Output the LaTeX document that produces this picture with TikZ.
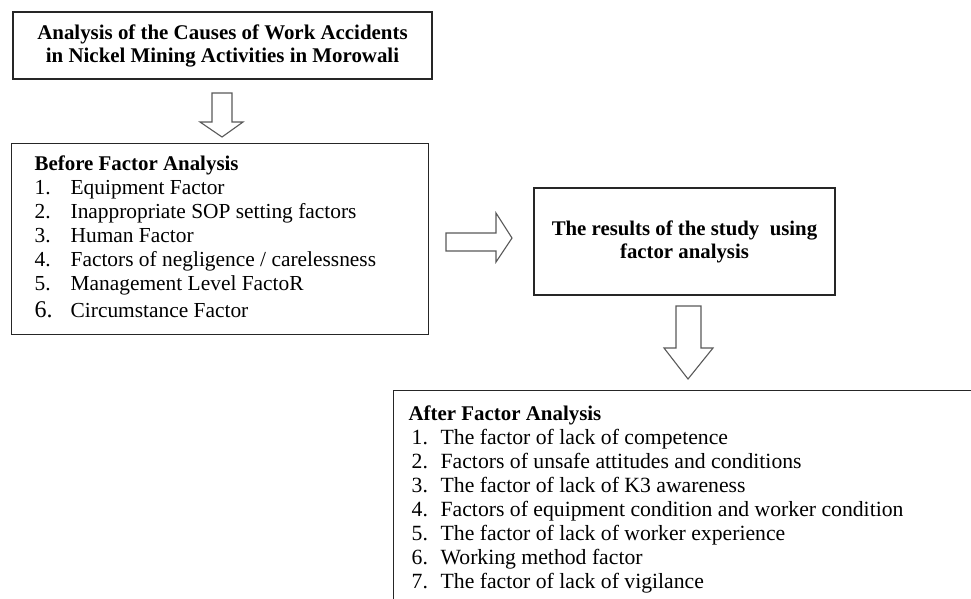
\documentclass[tikz,border=0pt]{standalone}
\usepackage{fontspec}
\setmainfont{Liberation Serif}
\usepackage{array}

\begin{document}
\begin{tikzpicture}[x=1pt,y=-1pt,
  box/.style={draw=black!85, line width=1.3pt, inner sep=0pt},
  flowarrow/.style={draw=black!65, line width=1.1pt, fill=white, line join=miter}]

\useasboundingbox (0,0) rectangle (971,598);
\clip (0,0) rectangle (971,598);

% Title of the study
\node[box, minimum width=419pt, minimum height=67pt, align=center,
      font=\bfseries\fontsize{20.9}{23}\selectfont] (title) at (222.5,45.5)
  {Analysis of the Causes of Work Accidents\\in Nickel Mining Activities in Morowali};

% Factors before the analysis
\node[box, anchor=north west, inner xsep=23pt, inner ysep=10pt,
      font=\fontsize{21.4}{24}\selectfont] (before) at (11,143)
  {\begin{tabular}{@{}p{36pt}@{}p{335pt}@{}}
   \multicolumn{2}{@{}l@{}}{\fontsize{20.9}{24}\selectfont\textbf{Before Factor Analysis}}\\
   1. & Equipment Factor\\
   2. & Inappropriate SOP setting factors\\
   3. & Human Factor\\
   4. & Factors of negligence / carelessness\\
   5. & Management Level FactoR\\[3pt]
   {\fontsize{24}{24}\selectfont 6.} & Circumstance Factor
   \end{tabular}};

% Result of the study
\node[box, minimum width=301pt, minimum height=107pt, align=center,
      font=\bfseries\fontsize{20.8}{23}\selectfont] (result) at (684.5,241.5)
  {The results of the study~ using\\factor analysis};

% Factors after the analysis (runs off the page)
\node[box, anchor=north west, inner xsep=15pt, inner ysep=13pt,
      font=\fontsize{21.7}{24}\selectfont] (after) at (393,390)
  {\begin{tabular}{@{}p{32pt}@{}p{553pt}@{}}
   \multicolumn{2}{@{}l@{}}{\fontsize{20.9}{24}\selectfont\textbf{After Factor Analysis}}\\
   \hspace{3pt}1. & The factor of lack of competence\\
   \hspace{3pt}2. & Factors of unsafe attitudes and conditions\\
   \hspace{3pt}3. & The factor of lack of K3 awareness\\
   \hspace{3pt}4. & Factors of equipment condition and worker condition\\
   \hspace{3pt}5. & The factor of lack of worker experience\\
   \hspace{3pt}6. & Working method factor\\
   \hspace{3pt}7. & The factor of lack of vigilance
   \end{tabular}};

% block arrows
\draw[flowarrow] (212,93) -- (232,93) -- (232,122) -- (243,122) -- (222,137)
  -- (200,122) -- (212,122) -- cycle;
\draw[flowarrow] (446,233) -- (496,233) -- (496,213) -- (512,238) -- (496,262)
  -- (496,251) -- (446,251) -- cycle;
\draw[flowarrow] (676,306) -- (701,306) -- (701,348) -- (713,348) -- (688,379)
  -- (664,348) -- (676,348) -- cycle;

\end{tikzpicture}
\end{document}
